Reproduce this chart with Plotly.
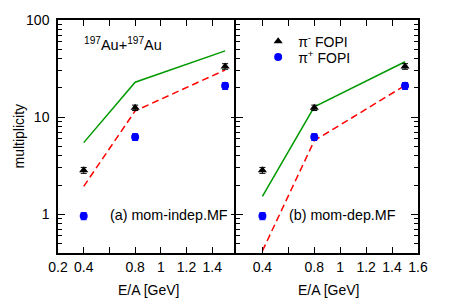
import numpy as np
import plotly.graph_objects as go

# Data
energy = [0.4, 0.8, 1.5]
pim_fopi = [2.84, 12.5, 33.3]
pim_err = [0.2, 0.8, 2.2]
pip_fopi = [0.96, 6.25, 21.0]
pip_err = [0.08, 0.5, 1.7]

# (a) momentum-independent mean field
a_pim = [5.47, 22.9, 48.1]
a_pip = [1.94, 11.6, 30.6]
# (b) momentum-dependent mean field
b_pim = [1.53, 12.8, 37.2]
b_pip = [0.42, 5.73, 21.2]

xt_vals = [0.2, 0.4, 0.6, 0.8, 1.0, 1.2, 1.4, 1.6]
xt_left = ["0.2", "0.4", " ", "0.8", "1", "1.2", "1.4", " "]
xt_right = [" ", "0.4", " ", "0.8", "1", "1.2", "1.4", "1.6"]
yt_vals = [1, 10, 100]
yt_text = ["1", "10", "100"]
y_minor = [0.4, 0.5, 0.6, 0.7, 0.8, 0.9] + [2, 3, 4, 5, 6, 7, 8, 9] + [20, 30, 40, 50, 60, 70, 80, 90]

GREEN = "#009900"
RED = "#ff0000"
BLUE = "#0000ff"
FONT = "Liberation Sans, Arial, sans-serif"

fig = go.Figure()

for i, (gvals, rvals) in enumerate([(a_pim, a_pip), (b_pim, b_pip)]):
    xa = "x" if i == 0 else "x2"
    ya = "y" if i == 0 else "y2"
    fig.add_trace(go.Scatter(x=energy, y=gvals, mode="lines", xaxis=xa, yaxis=ya,
                             line=dict(color=GREEN, width=1.5), showlegend=False))
    fig.add_trace(go.Scatter(x=energy, y=rvals, mode="lines", xaxis=xa, yaxis=ya,
                             line=dict(color=RED, width=1.5, dash="7px,4px"), showlegend=False))
    fig.add_trace(go.Scatter(x=energy, y=pim_fopi, mode="markers", xaxis=xa, yaxis=ya,
                             name="π<sup>-</sup> FOPI", legend="legend",
                             marker=dict(symbol="triangle-up", size=8, color="black"),
                             error_y=dict(type="data", array=pim_err, color="black", thickness=1, width=3),
                             showlegend=(i == 1)))
    fig.add_trace(go.Scatter(x=energy, y=pip_fopi, mode="markers", xaxis=xa, yaxis=ya,
                             name="π<sup>+</sup> FOPI", legend="legend2",
                             marker=dict(symbol="circle", size=8, color=BLUE),
                             error_y=dict(type="data", array=pip_err, color=BLUE, thickness=1, width=3),
                             showlegend=(i == 1)))

common_x = dict(range=[0.2, 1.6], tickmode="array", tickvals=xt_vals, ticks="inside",
                ticklen=6, tickcolor="black", showline=True, linecolor="black", linewidth=1.5,
                mirror="ticks", showgrid=False, zeroline=False,
                tickfont=dict(size=14, color="black", family=FONT))
common_y = dict(type="log", range=[np.log10(0.4), 2], tickmode="array", tickvals=yt_vals,
                ticktext=yt_text, ticks="inside", ticklen=7, tickcolor="black",
                showline=True, linecolor="black", linewidth=1.5, mirror="ticks",
                showgrid=False, zeroline=False,
                minor=dict(tickvals=y_minor, ticks="inside", ticklen=4, tickcolor="black", showgrid=False),
                tickfont=dict(size=14, color="black", family=FONT))

leg_common = dict(xanchor="left", yanchor="middle", bgcolor="rgba(0,0,0,0)",
                  font=dict(size=14, family=FONT), itemwidth=30, tracegroupgap=0)

fig.update_layout(
    width=450, height=300,
    margin=dict(l=58, r=32, t=17, b=47),
    paper_bgcolor="white", plot_bgcolor="white",
    font=dict(family=FONT, size=14, color="black"),
    xaxis=dict(domain=[0, 0.5], ticktext=xt_left, **common_x),
    xaxis2=dict(domain=[0.4958, 1], ticktext=xt_right, anchor="y2", **common_x),
    yaxis=dict(domain=[0, 1], anchor="x", ticklabelstandoff=4, **common_y),
    yaxis2=dict(domain=[0, 1], anchor="x2", showticklabels=False, **common_y),
    legend=dict(x=0.556, y=(253 - 39) / 236, **leg_common),
    legend2=dict(x=0.556, y=(253 - 55) / 236, **leg_common),
    annotations=[
        dict(text="<sup>197</sup>Au+<sup>197</sup>Au", xref="paper", yref="paper", x=0.067, y=0.898,
             xanchor="left", yanchor="middle", showarrow=False, font=dict(size=14.5)),
        dict(text="(a) mom-indep.MF", xref="paper", yref="paper", x=0.478, y=0.165,
             xanchor="right", yanchor="middle", showarrow=False, font=dict(size=14.3)),
        dict(text="(b) mom-dep.MF", xref="paper", yref="paper", x=0.944, y=0.165,
             xanchor="right", yanchor="middle", showarrow=False, font=dict(size=14.3)),
        dict(text="multiplicity", xref="paper", yref="paper", x=0, y=0.5, xshift=-40,
             xanchor="center", yanchor="middle", textangle=-90, showarrow=False, font=dict(size=14)),
        dict(text="E/A [GeV]", xref="paper", yref="paper", x=0.25, y=0, yshift=-37,
             xanchor="center", yanchor="middle", showarrow=False, font=dict(size=14)),
        dict(text="E/A [GeV]", xref="paper", yref="paper", x=0.75, y=0, yshift=-37,
             xanchor="center", yanchor="middle", showarrow=False, font=dict(size=14)),
    ],
)

fig.write_html("out.html", config={"displayModeBar": False},
               post_script="document.body.style.margin='0';document.body.style.overflow='hidden';")
